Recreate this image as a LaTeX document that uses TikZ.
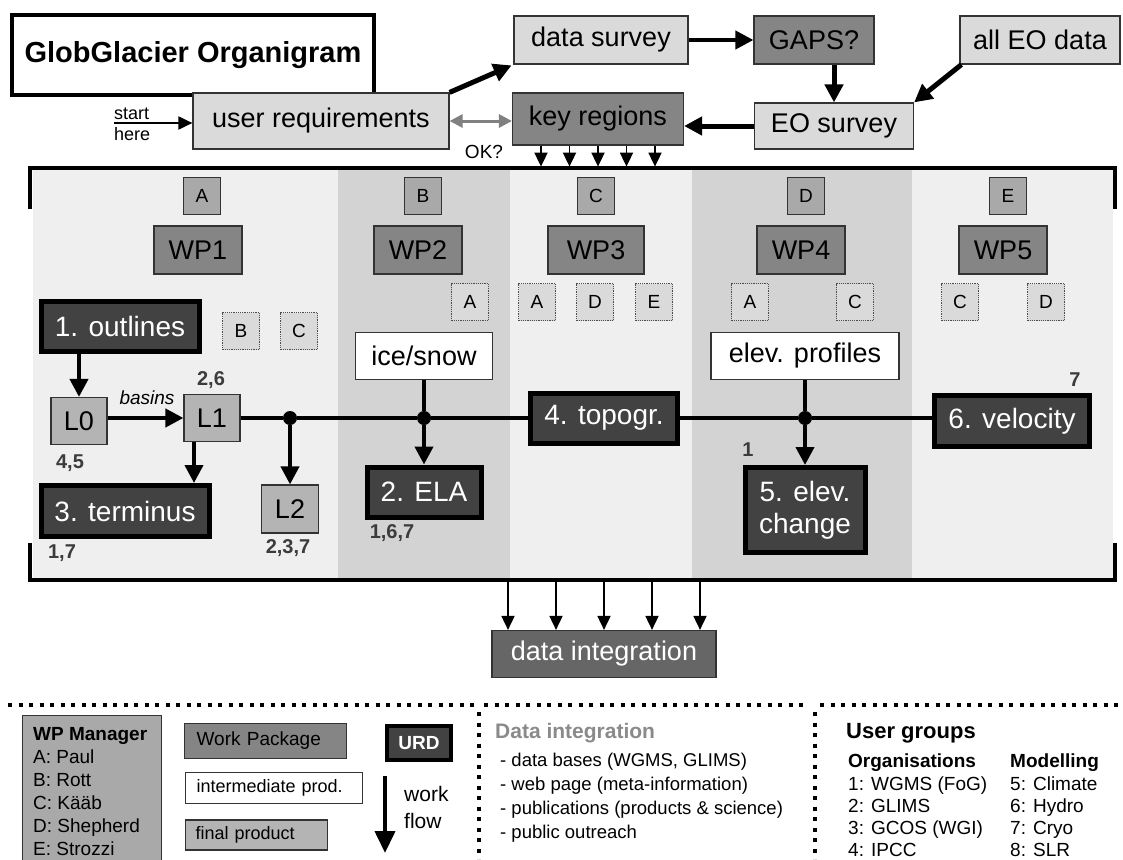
\documentclass[tikz,border=0pt]{standalone}
\usepackage{fontspec}
\setmainfont{Liberation Sans}
\usetikzlibrary{arrows.meta,calc}

\definecolor{bglight}{HTML}{EFEFEF}
\definecolor{bgdark}{HTML}{D3D3D3}
\definecolor{boxlight}{HTML}{DADADA}
\definecolor{boxwp}{HTML}{858585}
\definecolor{boxmgr}{HTML}{A9A9A9}
\definecolor{boxlevel}{HTML}{B4B4B4}
\definecolor{boxurd}{HTML}{424242}
\definecolor{boxint}{HTML}{666666}
\definecolor{numtext}{HTML}{3C3C3C}
\definecolor{ditext}{HTML}{8A8A8A}

\begin{document}
\begin{tikzpicture}[x=1pt,y=-1pt,>={Triangle[length=18pt,width=18pt]},
                    line join=miter]

  \tikzstyle{every node}=[inner sep=0pt]
  \tikzstyle{box}=[draw=black!80,line width=1.2pt,font=\fontsize{27}{30}\selectfont]
  \tikzstyle{mgr}=[box,fill=boxmgr,minimum size=37pt,font=\fontsize{19}{22}\selectfont]
  \tikzstyle{helper}=[mgr,fill=boxlight,draw=black!70,densely dotted]
  \tikzstyle{wp}=[box,fill=boxwp,minimum width=88pt,minimum height=48pt]
  \tikzstyle{level}=[box,fill=boxlevel,minimum width=56pt,minimum height=47pt]
  \tikzstyle{inter}=[box,fill=white,minimum height=47pt]
  \tikzstyle{product}=[draw=black,line width=5pt,fill=boxurd,text=white,
                       align=center,font=\fontsize{28}{32}\selectfont]
  \tikzstyle{junction}=[circle,fill=black,minimum size=14pt]
  \tikzstyle{num}=[text=numtext,font=\bfseries\fontsize{20}{22}\selectfont]
  \tikzstyle{flow}=[->,line width=4pt]
  \tikzstyle{thinflow}=[->,line width=1.8pt,>={Triangle[length=14pt,width=13pt]}]
  \tikzstyle{legdots}=[line width=4pt,dash pattern=on 4pt off 6.5pt]
  \tikzstyle{legend}=[anchor=base west,font=\fontsize{19}{22}\selectfont]

  \useasboundingbox (0,0) rectangle (1123,859);

  \fill[bglight] (33,170) rectangle (1113,578);
  \fill[bgdark] (338,170) rectangle (510,578);
  \fill[bgdark] (692,170) rectangle (912,578);
  \draw[line width=4pt] (30,209) |- (1115,168) -- (1115,209);
  \draw[line width=4pt] (30,543) |- (1115,580) -- (1115,543);

  \node[draw,line width=4pt,minimum width=362pt,minimum height=80pt,
        font=\bfseries\fontsize{29}{32}\selectfont] (title) at (193,55) {GlobGlacier Organigram};

  \node[box,fill=boxlight,minimum width=256pt,minimum height=56pt] (userreq)    at (321,121)  {user requirements};
  \node[box,fill=boxlight,minimum width=174pt,minimum height=48pt] (datasurvey) at (601,40)   {data survey};
  \node[box,fill=boxwp,   minimum width=120pt,minimum height=48pt] (gaps)       at (814,40)   {GAPS?};
  \node[box,fill=boxlight,minimum width=160pt,minimum height=48pt] (alleo)      at (1040,40)  {all EO data};
  \node[box,fill=boxlight,minimum width=159pt,minimum height=46pt] (eosurvey)   at (834,126)  {EO survey};
  \node[box,fill=boxwp,   minimum width=171pt,minimum height=52pt] (keyreg)     at (598,119)  {key regions};

  \coordinate (start) at (114,123);
  \node[anchor=south west,font=\fontsize{18}{20}\selectfont] (startlbl) at ([yshift=3pt]start)  {start};
  \node[anchor=north west,font=\fontsize{18}{20}\selectfont] (herelbl)  at ([yshift=-4pt]start) {here};
  \node[font=\fontsize{19}{22}\selectfont] (ok) at (484,152) {OK?};

  \draw[->,line width=2pt,>={Triangle[length=14pt,width=13pt]}] (start) -- (start -| userreq.west);
  \draw[->,line width=5pt,shorten >=2pt] (userreq.north east) -- (datasurvey.south west);
  \draw[->,line width=4pt] (datasurvey) -- (gaps);
  \draw[->,line width=5pt] (gaps.south -| eosurvey) -- (eosurvey.north);
  \draw[->,line width=5pt] ([xshift=2pt]alleo.south west) -- (eosurvey.north east);
  \draw[->,line width=5pt] (eosurvey.west) -- (eosurvey.west -| keyreg.east);
  \draw[<->,draw=black!50,line width=3pt,>={Triangle[length=13pt,width=13pt]}]
       (userreq.east) -- (userreq.east -| keyreg.west);

  \foreach \dx in {-57,-28.5,0,28.5,57}
    \draw[thinflow] ($(keyreg.south)+(\dx,0)$) -- ($(keyreg.south)+(\dx,21)$);

  \node[mgr] (mgra) at (202,196)  {A};
  \node[mgr] (mgrb) at (423,196)  {B};
  \node[mgr] (mgrc) at (596,196)  {C};
  \node[mgr] (mgrd) at (806,196)  {D};
  \node[mgr] (mgre) at (1008,196) {E};

  \node[wp] (wp1) at (198,250)  {WP1};
  \node[wp] (wp2) at (418,250)  {WP2};
  \node[wp,minimum width=96pt] (wp3) at (596,250) {WP3};
  \node[wp] (wp4) at (801,250)  {WP4};
  \node[wp] (wp5) at (1003,250) {WP5};

  \node[helper] (h1b) at (241,331)  {B};
  \node[helper] (h1c) at (299,331)  {C};
  \node[helper] (h2a) at (470,302)  {A};
  \node[helper] (h3a) at (537,302)  {A};
  \node[helper] (h3d) at (595,302)  {D};
  \node[helper] (h3e) at (654,302)  {E};
  \node[helper] (h4a) at (750,302)  {A};
  \node[helper] (h4c) at (855,302)  {C};
  \node[helper] (h5c) at (960,302)  {C};
  \node[helper] (h5d) at (1046,302) {D};

  \node[product,minimum width=158pt,minimum height=50pt] (outlines) at (120,326) {1. outlines};
  \node[inter,minimum width=137pt] (icesnow)  at (424,356) {ice/snow};
  \node[inter,minimum width=188pt] (profiles) at (805,356) {elev. profiles};

  \node[level] (l0) at (79,421)  {L0};
  \node[level] (l1) at (212,418) {L1};
  \node[level,minimum width=57pt,minimum height=48pt] (l2) at (290,509) {L2};

  \node[junction] (j1) at (290,418) {};
  \node[junction] (j2) at (424,418) {};
  \node[junction] (j3) at (805,418) {};

  \node[product,minimum width=147pt,minimum height=50pt] (topo)     at (604,418)  {4. topogr.};
  \node[product,minimum width=155pt,minimum height=51pt] (velocity) at (1012,421) {6. velocity};
  \node[product,minimum width=168pt,minimum height=51pt] (terminus) at (125,511)  {3. terminus};
  \node[product,minimum width=114pt,minimum height=50pt] (ela)      at (424,492)  {2. ELA};
  \node[product,minimum width=120pt,minimum height=85pt] (change)   at (805,510)  {5. elev.\\change};

  \node[box,fill=boxint,text=white,minimum width=224pt,minimum height=47pt] (dataint) at (604,654) {data integration};

  \draw[flow] (outlines.south -| l0) -- (l0.north);
  \draw[flow] (l0.east |- l1) -- (l1.west);
  \node[font=\itshape\fontsize{19}{22}\selectfont] (basins) at (147,398) {basins};
  \draw[flow] ([xshift=-18pt]l1.south) -- ([xshift=-18pt]l1.south |- terminus.north);
  \draw[line width=4pt] (l1.east) -- (j1) -- (j2) -- (topo.west);
  \draw[line width=4pt] (topo.east) -- (j3) -- (j3 -| velocity.west);
  \draw[flow] (j1) -- (l2.north);
  \draw[line width=4pt] (icesnow.south) -- (j2);
  \draw[flow] (j2) -- (ela.north);
  \draw[line width=4pt] (profiles.south) -- (j3);
  \draw[flow] (j3) -- (change.north);

  \node[num] (n26)  at (211,380)  {2,6};
  \node[num] (n45)  at (70,463)   {4,5};
  \node[num] (n17)  at (62,553)   {1,7};
  \node[num] (n237) at (288,548)  {2,3,7};
  \node[num] (n167) at (392,533)  {1,6,7};
  \node[num] (n1)   at (748,450)  {1};
  \node[num] (n7)   at (1075,380) {7};

  \foreach \dx in {-96,-48,0,48,96}
    \draw[thinflow] ($(dataint.north)+(\dx,-48)$) -- ($(dataint.north)+(\dx,0)$);

  \draw[legdots] (8,705) -- (474,705);
  \draw[legdots] (484,705) -- (808,705);
  \draw[legdots] (820,705) -- (1123,705);
  \draw[legdots] (479,712) -- (479,859);
  \draw[legdots] (815,712) -- (815,859);

  \node[box,fill=boxmgr,minimum width=139pt,minimum height=150pt,anchor=north west] (mgrbox) at (22,715) {};
  \node[legend,font=\bfseries\fontsize{19}{22}\selectfont] (mgrhead) at (33,740) {WP Manager};
  \node[legend] (mgrlsta) at (33,763) {A: Paul};
  \node[legend] (mgrlstb) at (33,786) {B: Rott};
  \node[legend] (mgrlstc) at (33,809) {C: Kääb};
  \node[legend] (mgrlstd) at (33,832) {D: Shepherd};
  \node[legend] (mgrlste) at (33,855) {E: Strozzi};

  \node[box,fill=boxwp,anchor=west,inner xsep=12pt,text width=138pt,align=left,
        minimum height=35pt,font=\fontsize{19}{22}\selectfont] (keywp) at (184,741) {Work Package};
  \node[box,fill=white,anchor=west,inner xsep=11pt,text width=155pt,align=left,
        minimum height=31pt,font=\fontsize{18}{21}\selectfont] (keyinter) at (185,788) {intermediate prod.};
  \node[box,fill=boxlevel,anchor=west,inner xsep=10pt,text width=122pt,align=left,
        minimum height=30pt,font=\fontsize{18}{21}\selectfont] (keyfinal) at (185,835) {final product};
  \node[draw=black,line width=4pt,fill=boxurd,text=white,minimum width=64pt,minimum height=34pt,
        font=\bfseries\fontsize{19}{22}\selectfont] (keyurd) at (419,743) {URD};

  \coordinate (wftop) at (385,776);
  \coordinate (wfbot) at (385,853);
  \draw[->,line width=4pt,>={Triangle[length=22pt,width=20pt]}] (wftop) -- (wfbot);
  \node[legend,font=\fontsize{21}{24}\selectfont] (work) at (404,801) {work};
  \node[legend,font=\fontsize{21}{24}\selectfont] (flowlbl) at (404,828) {flow};

  \node[legend,text=ditext,font=\bfseries\fontsize{21}{24}\selectfont] (dihead) at (495,738) {Data integration};
  \node[legend,font=\fontsize{18.5}{22}\selectfont] (di1) at (500,766) {- data bases (WGMS, GLIMS)};
  \node[legend,font=\fontsize{18.5}{22}\selectfont] (di2) at (500,790) {- web page (meta-information)};
  \node[legend,font=\fontsize{18.5}{22}\selectfont] (di3) at (500,814) {- publications (products \& science)};
  \node[legend,font=\fontsize{18.5}{22}\selectfont] (di4) at (500,838) {- public outreach};

  \node[legend,font=\bfseries\fontsize{22}{25}\selectfont] (ughead) at (846,738) {User groups};
  \node[legend,font=\bfseries\fontsize{19}{22}\selectfont] (orghead) at (848,767) {Organisations};
  \node[legend,font=\bfseries\fontsize{19}{22}\selectfont] (modhead) at (1010,767) {Modelling};
  \node[legend] (org1) at (848,790) {1: WGMS (FoG)};
  \node[legend] (org2) at (848,812) {2: GLIMS};
  \node[legend] (org3) at (848,834) {3: GCOS (WGI)};
  \node[legend] (org4) at (848,856) {4: IPCC};
  \node[legend] (mod5) at (1010,790) {5: Climate};
  \node[legend] (mod6) at (1010,812) {6: Hydro};
  \node[legend] (mod7) at (1010,834) {7: Cryo};
  \node[legend] (mod8) at (1010,856) {8: SLR};
\end{tikzpicture}
\end{document}
